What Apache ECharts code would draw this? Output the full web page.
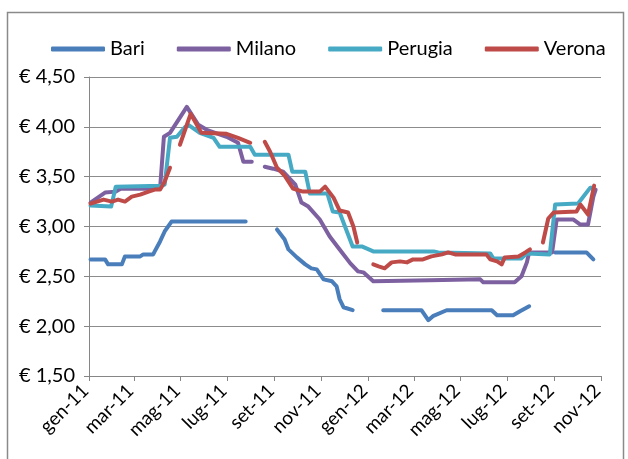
<!DOCTYPE html>
<html>
<head>
<meta charset="utf-8">
<script src="https://cdn.jsdelivr.net/npm/echarts@6/dist/echarts.min.js"></script>
<style>
  html, body { margin: 0; padding: 0; background: #fff; }
  #chart { width: 628px; height: 459px; }
</style>
</head>
<body>
<div id="chart"></div>
<script>
// Weekly price per city, [date, euro]; null marks a break in the series.
const bari = [
  ['2011-01-03', 2.67], ['2011-01-22', 2.67], ['2011-01-26', 2.62], ['2011-02-13', 2.62],
  ['2011-02-17', 2.70], ['2011-03-09', 2.70], ['2011-03-13', 2.72], ['2011-03-26', 2.72],
  ['2011-03-28', 2.75], ['2011-04-04', 2.85], ['2011-04-10', 2.95], ['2011-04-19', 3.05],
  ['2011-07-25', 3.05], ['2011-08-15', null],
  ['2011-09-04', 2.97], ['2011-09-14', 2.87], ['2011-09-19', 2.77], ['2011-09-30', 2.69],
  ['2011-10-11', 2.62], ['2011-10-19', 2.58], ['2011-10-26', 2.57], ['2011-11-04', 2.47],
  ['2011-11-15', 2.45], ['2011-11-21', 2.40], ['2011-11-25', 2.27], ['2011-11-30', 2.19],
  ['2011-12-12', 2.16], ['2011-12-31', null],
  ['2012-01-21', 2.16], ['2012-03-11', 2.16], ['2012-03-20', 2.06], ['2012-03-26', 2.10],
  ['2012-04-13', 2.16], ['2012-06-11', 2.16], ['2012-06-18', 2.11], ['2012-07-09', 2.11],
  ['2012-07-18', 2.15], ['2012-07-30', 2.20], ['2012-08-15', null],
  ['2012-09-02', 2.74], ['2012-10-13', 2.74], ['2012-10-22', 2.67]
];
const milano = [
  ['2011-01-03', 3.24], ['2011-01-22', 3.34], ['2011-02-05', 3.35], ['2011-02-12', 3.38],
  ['2011-04-04', 3.38], ['2011-04-09', 3.90], ['2011-04-17', 3.94], ['2011-05-09', 4.20],
  ['2011-05-24', 4.02], ['2011-06-04', 3.97], ['2011-06-30', 3.90], ['2011-07-15', 3.84],
  ['2011-07-22', 3.65], ['2011-08-02', 3.65], ['2011-08-10', null],
  ['2011-08-19', 3.60], ['2011-08-30', 3.58], ['2011-09-12', 3.55], ['2011-09-28', 3.42],
  ['2011-10-06', 3.24], ['2011-10-15', 3.20], ['2011-10-30', 3.07], ['2011-11-12', 2.90],
  ['2011-11-25', 2.77], ['2011-12-09', 2.63], ['2011-12-19', 2.55], ['2011-12-26', 2.54],
  ['2012-01-08', 2.45], ['2012-03-22', 2.46], ['2012-05-27', 2.47], ['2012-05-31', 2.44],
  ['2012-07-11', 2.44], ['2012-07-20', 2.50], ['2012-07-27', 2.64], ['2012-07-30', 2.74],
  ['2012-08-29', 2.74], ['2012-09-04', 3.07], ['2012-09-26', 3.07], ['2012-10-05', 3.02],
  ['2012-10-15', 3.02], ['2012-10-22', 3.30], ['2012-10-25', 3.37]
];
const perugia = [
  ['2011-01-03', 3.21], ['2011-01-30', 3.20], ['2011-02-05', 3.40], ['2011-04-06', 3.41],
  ['2011-04-10', 3.42], ['2011-04-17', 3.89], ['2011-04-26', 3.90], ['2011-05-07', 4.00],
  ['2011-05-11', 4.02], ['2011-05-26', 3.94], ['2011-06-13', 3.89], ['2011-06-21', 3.80],
  ['2011-07-31', 3.80], ['2011-08-06', 3.72], ['2011-09-19', 3.72], ['2011-09-24', 3.55],
  ['2011-10-11', 3.55], ['2011-10-17', 3.33], ['2011-11-09', 3.33], ['2011-11-16', 3.15],
  ['2011-11-25', 3.14], ['2011-12-12', 2.80], ['2011-12-24', 2.80], ['2012-01-08', 2.75],
  ['2012-03-27', 2.75], ['2012-04-02', 2.74], ['2012-06-09', 2.73], ['2012-06-13', 2.68],
  ['2012-07-20', 2.68], ['2012-07-27', 2.73], ['2012-08-26', 2.72], ['2012-09-02', 3.22],
  ['2012-10-02', 3.23], ['2012-10-18', 3.39], ['2012-10-20', 3.39]
];
const verona = [
  ['2011-01-03', 3.23], ['2011-01-20', 3.27], ['2011-01-31', 3.25], ['2011-02-08', 3.27],
  ['2011-02-17', 3.25], ['2011-02-26', 3.30], ['2011-03-09', 3.32], ['2011-03-20', 3.35],
  ['2011-03-28', 3.37], ['2011-04-04', 3.37], ['2011-04-10', 3.45], ['2011-04-17', 3.59],
  ['2011-04-23', null],
  ['2011-04-30', 3.82], ['2011-05-14', 4.13], ['2011-05-28', 3.94], ['2011-06-30', 3.93],
  ['2011-07-15', 3.89], ['2011-07-31', 3.84], ['2011-08-10', null],
  ['2011-08-19', 3.85], ['2011-08-26', 3.75], ['2011-09-04', 3.59], ['2011-09-14', 3.51],
  ['2011-09-25', 3.38], ['2011-10-08', 3.35], ['2011-10-30', 3.35], ['2011-11-06', 3.40],
  ['2011-11-17', 3.29], ['2011-11-25', 3.16], ['2011-12-06', 3.14], ['2011-12-13', 3.00],
  ['2011-12-18', 2.84], ['2011-12-28', null],
  ['2012-01-08', 2.62], ['2012-01-15', 2.60], ['2012-01-23', 2.58], ['2012-02-01', 2.64],
  ['2012-02-12', 2.65], ['2012-02-21', 2.64], ['2012-02-29', 2.67], ['2012-03-13', 2.67],
  ['2012-03-24', 2.70], ['2012-04-07', 2.72], ['2012-04-15', 2.74], ['2012-04-24', 2.72],
  ['2012-06-04', 2.72], ['2012-06-09', 2.67], ['2012-06-18', 2.65], ['2012-06-24', 2.62],
  ['2012-06-28', 2.69], ['2012-07-16', 2.70], ['2012-07-25', 2.74], ['2012-07-31', 2.77],
  ['2012-08-08', null],
  ['2012-08-17', 2.84], ['2012-08-24', 3.08], ['2012-08-31', 3.14], ['2012-09-30', 3.15],
  ['2012-10-05', 3.22], ['2012-10-15', 3.12], ['2012-10-23', 3.41]
];

// Month ticks on the date axis and their labels
const tickDates = ['2011-01-01', '2011-03-01', '2011-05-01', '2011-07-01', '2011-09-01', '2011-11-01',
                   '2012-01-01', '2012-03-01', '2012-05-01', '2012-07-01', '2012-09-01', '2012-11-01'];
const tickLabels = ['gen-11', 'mar-11', 'mag-11', 'lug-11', 'set-11', 'nov-11',
                    'gen-12', 'mar-12', 'mag-12', 'lug-12', 'set-12', 'nov-12'];
const yTicks = [1.5, 2.0, 2.5, 3.0, 3.5, 4.0, 4.5];

const cities = ['Bari', 'Milano', 'Perugia', 'Verona'];
const colors = ['#4A7EBB', '#7D60A0', '#46AAC5', '#BE4B48'];
const seriesData = [bari, milano, perugia, verona];

// Dates are placed on a numeric axis measured in days from 1 Jan 2011
const DAY = 86400000;
const ORIGIN = Date.UTC(2011, 0, 1);
function toDay(s) {
  const p = s.split('-').map(Number);
  return Math.round((Date.UTC(p[0], p[1] - 1, p[2]) - ORIGIN) / DAY);
}
const tickDays = tickDates.map(toDay);
const FONT = 'Lato, "Open Sans", sans-serif';

const chart = echarts.init(document.getElementById('chart'), null, { renderer: 'canvas' });
chart.setOption({
  animation: false,
  backgroundColor: '#ffffff',
  color: colors,
  graphic: [{
    type: 'rect',
    shape: { x: 7.5, y: 12.5, width: 616, height: 470 },
    style: { fill: 'none', stroke: '#8a8a8a', lineWidth: 1.5 },
    silent: true
  }],
  legend: {
    left: 46,
    top: 34,
    itemWidth: 54,
    itemHeight: 5,
    itemGap: 32,
    icon: 'roundRect',
    textStyle: { fontFamily: FONT, fontSize: 20, color: '#000' },
    data: cities
  },
  grid: { left: 89, right: 27, top: 77, bottom: 83, containLabel: false },
  xAxis: {
    type: 'value',
    min: tickDays[0],
    max: tickDays[tickDays.length - 1],
    axisLine: { show: true, onZero: false, lineStyle: { color: '#868686', width: 1 } },
    axisTick: { show: true, customValues: tickDays, length: 5, lineStyle: { color: '#868686' } },
    splitLine: { show: false },
    axisLabel: {
      customValues: tickDays,
      rotate: 45,
      margin: 8,
      padding: [10, 5, 0, 0],
      fontFamily: FONT,
      fontSize: 19,
      color: '#000',
      formatter: function (v) {
        const i = tickDays.indexOf(Math.round(v));
        return i >= 0 ? tickLabels[i] : '';
      }
    }
  },
  yAxis: {
    type: 'value',
    min: yTicks[0],
    max: yTicks[yTicks.length - 1],
    interval: 0.5,
    axisLine: { show: true, lineStyle: { color: '#868686', width: 1 } },
    axisTick: { show: true, length: 5, lineStyle: { color: '#868686' } },
    splitLine: { show: true, lineStyle: { color: '#8c8c8c', width: 1 } },
    axisLabel: {
      margin: 14,
      fontFamily: FONT,
      fontSize: 20,
      color: '#000',
      formatter: function (v) { return '€ ' + v.toFixed(2).replace('.', ','); }
    }
  },
  series: cities.map(function (name, i) {
    return {
      name: name,
      type: 'line',
      data: seriesData[i].map(function (d) { return [toDay(d[0]), d[1] === null ? '-' : d[1]]; }),
      showSymbol: false,
      symbol: 'none',
      connectNulls: false,
      lineStyle: { width: 4, color: colors[i], cap: 'round', join: 'round' },
      itemStyle: { color: colors[i] }
    };
  })
});
</script>
</body>
</html>
